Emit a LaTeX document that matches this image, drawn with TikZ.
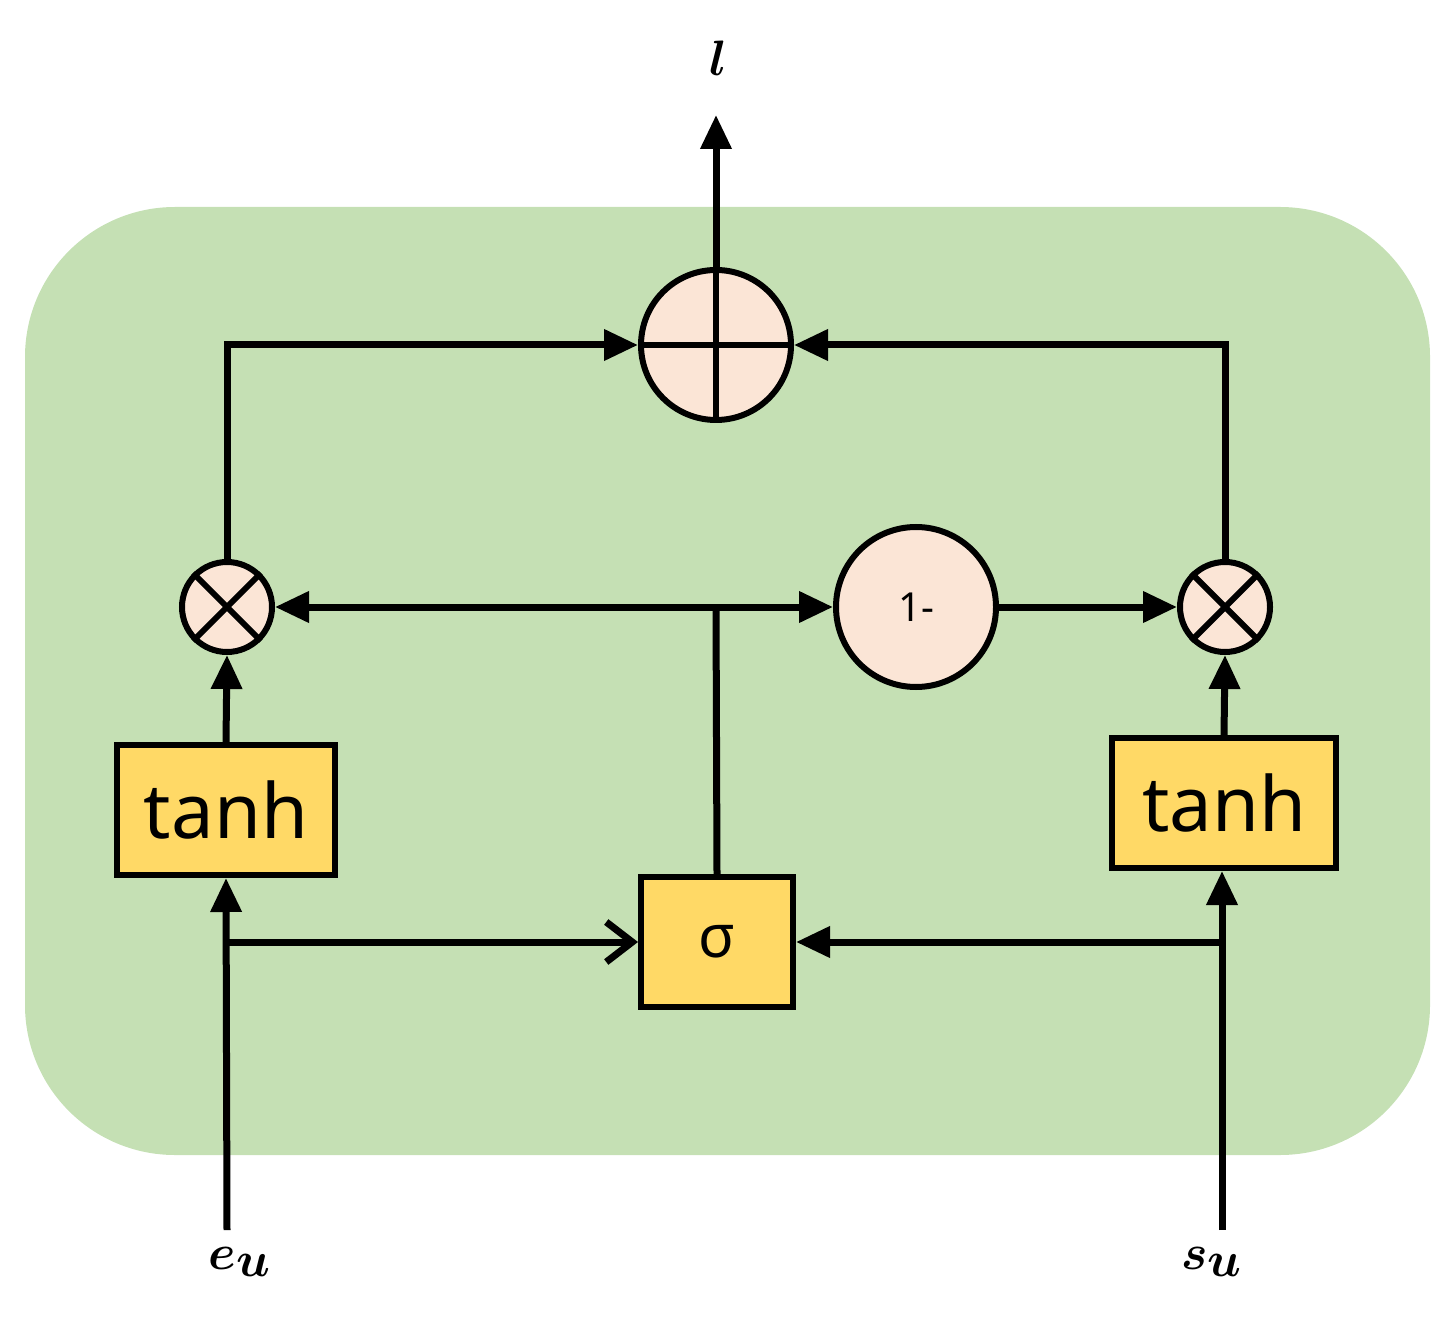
\documentclass[tikz,border=0pt]{standalone}
\usepackage{fontspec}
\usepackage{amsmath,bm}
\setmainfont{Noto Sans}
\usetikzlibrary{arrows.meta}
\definecolor{bg}{HTML}{C5E0B4}
\definecolor{peach}{HTML}{FBE5D6}
\definecolor{gold}{HTML}{FFD966}
\begin{document}
\begin{tikzpicture}[x=0.5pt,y=-0.5pt,
  ln/.style={line width=3.5pt},
  ar/.style={ln,-{Triangle[length=17pt,width=15pt]}},
  op/.style={circle,draw,line width=3pt,fill=peach,inner sep=0pt},
  bx/.style={draw,line width=3pt,fill=gold,inner sep=0pt},
  lab/.style={font=\fontsize{46}{50}\selectfont}]
\useasboundingbox (0,0) rectangle (1454,1325);
\fill[bg,rounded corners=75pt] (25,207) rectangle (1430,1155);
\node[op,minimum size=75pt] (plus) at (716,345) {};
\draw[line width=3pt] (plus.west)--(plus.east) (plus.north)--(plus.south);
\node[op,minimum size=45pt] (ml) at (227,607) {};
\draw[line width=3pt] (ml.north west)--(ml.south east) (ml.north east)--(ml.south west);
\node[op,minimum size=45pt] (mr) at (1225,607) {};
\draw[line width=3pt] (mr.north west)--(mr.south east) (mr.north east)--(mr.south west);
\node[op,minimum size=80pt,font=\fontsize{20}{22}\selectfont] (om) at (916,607) {1-};
\node[bx,minimum width=109pt,minimum height=65pt,font=\fontsize{38}{40}\selectfont] (tl) at (226,810) {tanh};
\node[bx,minimum width=112pt,minimum height=65pt,font=\fontsize{38}{40}\selectfont] (tr) at (1224,803) {tanh};
\node[bx,minimum width=76pt,minimum height=65pt,font=\fontsize{30}{32}\selectfont] (sg) at (717,942) {σ};
\node[lab] (l) at (718,58) {$\bm{l}$};
\node[lab] (eu) at (240,1262) {$\bm{e_u}$};
\node[lab] (su) at (1212,1262) {$\bm{s_u}$};
\coordinate (ls) at (227,1230);
\coordinate (rs) at (1222,1230);
\coordinate (top) at (716,115);
\draw[ar] (plus.north)--(top);
\draw[ar] (ml.north)|-(plus.west);
\draw[ar] (mr.north)|-(plus.east);
\draw[ln] (sg.north)--(716,607) coordinate (j);
\draw[ar] (j)--(ml.east);
\draw[ar] (j)--(om.west);
\draw[ar] (om.east)--(mr.west);
\draw[ar] (tl.north)--(ml.south);
\draw[ar] (tr.north)--(mr.south);
\draw[ar] (ls)--(tl.south);
\draw[ar] (rs)--(rs|-tr.south);
\draw[ln,-{Straight Barb[length=13pt,width=20pt,line width=3.5pt]}] (227,942)--(sg.west);
\draw[ar] (1225,942)--(sg.east);
\end{tikzpicture}
\end{document}
